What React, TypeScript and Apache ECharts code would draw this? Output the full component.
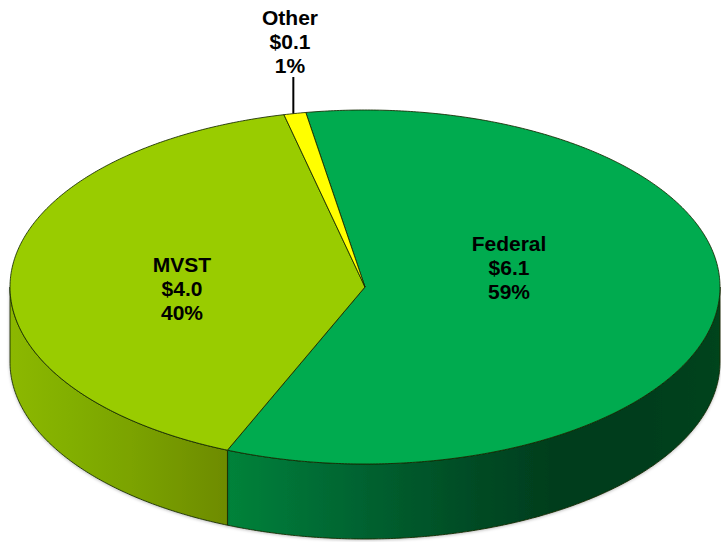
import React, { useEffect, useRef } from 'react';
import * as echarts from 'echarts';

// ---- data ----
const categories = ['Federal', 'MVST', 'Other'];
const amounts = [6.1, 4.0, 0.1]; // $ billions
const percents = [59, 40, 1];

// ---- styling / layout ----
const CX = 365;
const CY = 287;
const RX = 355;
const RY = 177;
const DEPTH = 75;
const START_ANGLE = -9.6; // degrees, clockwise from 12 o'clock

const TOP_COLORS = ['#00AB4F', '#99CC00', '#FFFF00'];
const SIDE_STOPS: [number, string][][] = [
  [
    [0.3, '#00843A'],
    [0.41, '#007036'],
    [0.55, '#005A2C'],
    [0.66, '#004A24'],
    [0.77, '#003D1D'],
    [0.89, '#003D1D'],
    [1, '#00441F'],
  ],
  [
    [0, '#8CB800'],
    [0.085, '#82AF00'],
    [0.17, '#7BA300'],
    [0.3, '#6E8C00'],
  ],
  [
    [0, '#CCCC00'],
    [1, '#CCCC00'],
  ],
];
const LABEL_POS: [number, number][] = [
  [509, 267],
  [182, 288],
  [290, 41],
];
const OUTSIDE_LIMIT = 5; // slices under this percent get an outside label with a leader line

const FONT_FAMILY = '"Liberation Sans", Arial, Helvetica, sans-serif';

function pt(deg: number, dy = 0): [number, number] {
  const r = (deg * Math.PI) / 180;
  return [CX + RX * Math.sin(r), CY - RY * Math.cos(r) + dy];
}

function arc(a0: number, a1: number, dy = 0): [number, number][] {
  const pts: [number, number][] = [];
  const n = Math.max(2, Math.ceil(Math.abs(a1 - a0) / 0.5));
  for (let i = 0; i <= n; i++) pts.push(pt(a0 + ((a1 - a0) * i) / n, dy));
  return pts;
}

export default function App() {
  const ref = useRef<HTMLDivElement>(null);

  useEffect(() => {
    if (!ref.current) return;
    const chart = echarts.init(ref.current, undefined, { renderer: 'svg' });
    const total = percents.reduce((a, b) => a + b, 0);

    const renderItem = (params: any, api: any) => {
      const i = params.dataIndex;
      let before = 0;
      for (let k = 0; k < i; k++) before += percents[k];
      const a0 = START_ANGLE + (before / total) * 360;
      const a1 = a0 + (api.value(0) / total) * 360;
      const children: any[] = [];

      // side (front half only: 90..270 deg, with wrap shifts)
      for (const shift of [-360, 0, 360]) {
        const s = Math.max(a0, 90 + shift);
        const e = Math.min(a1, 270 + shift);
        if (e > s) {
          const top = arc(s, e);
          const bottom = arc(e, s, DEPTH);
          children.push({
            type: 'polygon',
            z2: 1,
            shape: { points: top.concat(bottom) },
            style: {
              fill: new echarts.graphic.LinearGradient(CX - RX, 0, CX + RX, 0, SIDE_STOPS[i].map(([o, c]) => ({ offset: o, color: c })), true),
              stroke: 'rgba(20,40,0,0.85)',
              lineWidth: 1,
              shadowColor: 'rgba(0,0,0,0.25)',
              shadowBlur: 3,
              shadowOffsetY: 1,
            },
          });
        }
      }

      // top face
      children.push({
        type: 'polygon',
        z2: 2,
        shape: { points: [[CX, CY] as [number, number]].concat(arc(a0, a1)) },
        style: {
          fill: TOP_COLORS[i],
          stroke: 'rgba(20,40,0,0.85)',
          lineWidth: 1,
          lineJoin: 'round',
        },
      });

      const [lx, ly] = LABEL_POS[i];
      children.push({
        type: 'text',
        z2: 10,
        x: lx,
        y: ly,
        style: {
          text: `${categories[i]}\n$${amounts[i].toFixed(1)}\n${percents[i]}%`,
          fill: '#000',
          fontFamily: FONT_FAMILY,
          fontWeight: 'bold',
          fontSize: 21,
          lineHeight: 24,
          align: 'center',
          verticalAlign: 'middle',
        },
      });

      if (api.value(0) < OUTSIDE_LIMIT) {
        const [mx, my] = pt((a0 + a1) / 2);
        children.push({
          type: 'line',
          z2: 10,
          shape: { x1: mx - 1.5, y1: ly + 36, x2: mx - 1.5, y2: my },
          style: { stroke: '#000', lineWidth: 2 },
        });
      }

      return { type: 'group', children };
    };

    chart.setOption({
      animation: false,
      backgroundColor: '#ffffff',
      series: [
        {
          type: 'custom',
          coordinateSystem: 'none',
          renderItem,
          data: percents.map((p, i) => ({ name: categories[i], value: p })),
        },
      ],
    });

    return () => chart.dispose();
  }, []);

  return (
    <div
      ref={ref}
      style={{ position: 'fixed', left: 0, top: 0, width: 721, height: 542 }}
    />
  );
}
